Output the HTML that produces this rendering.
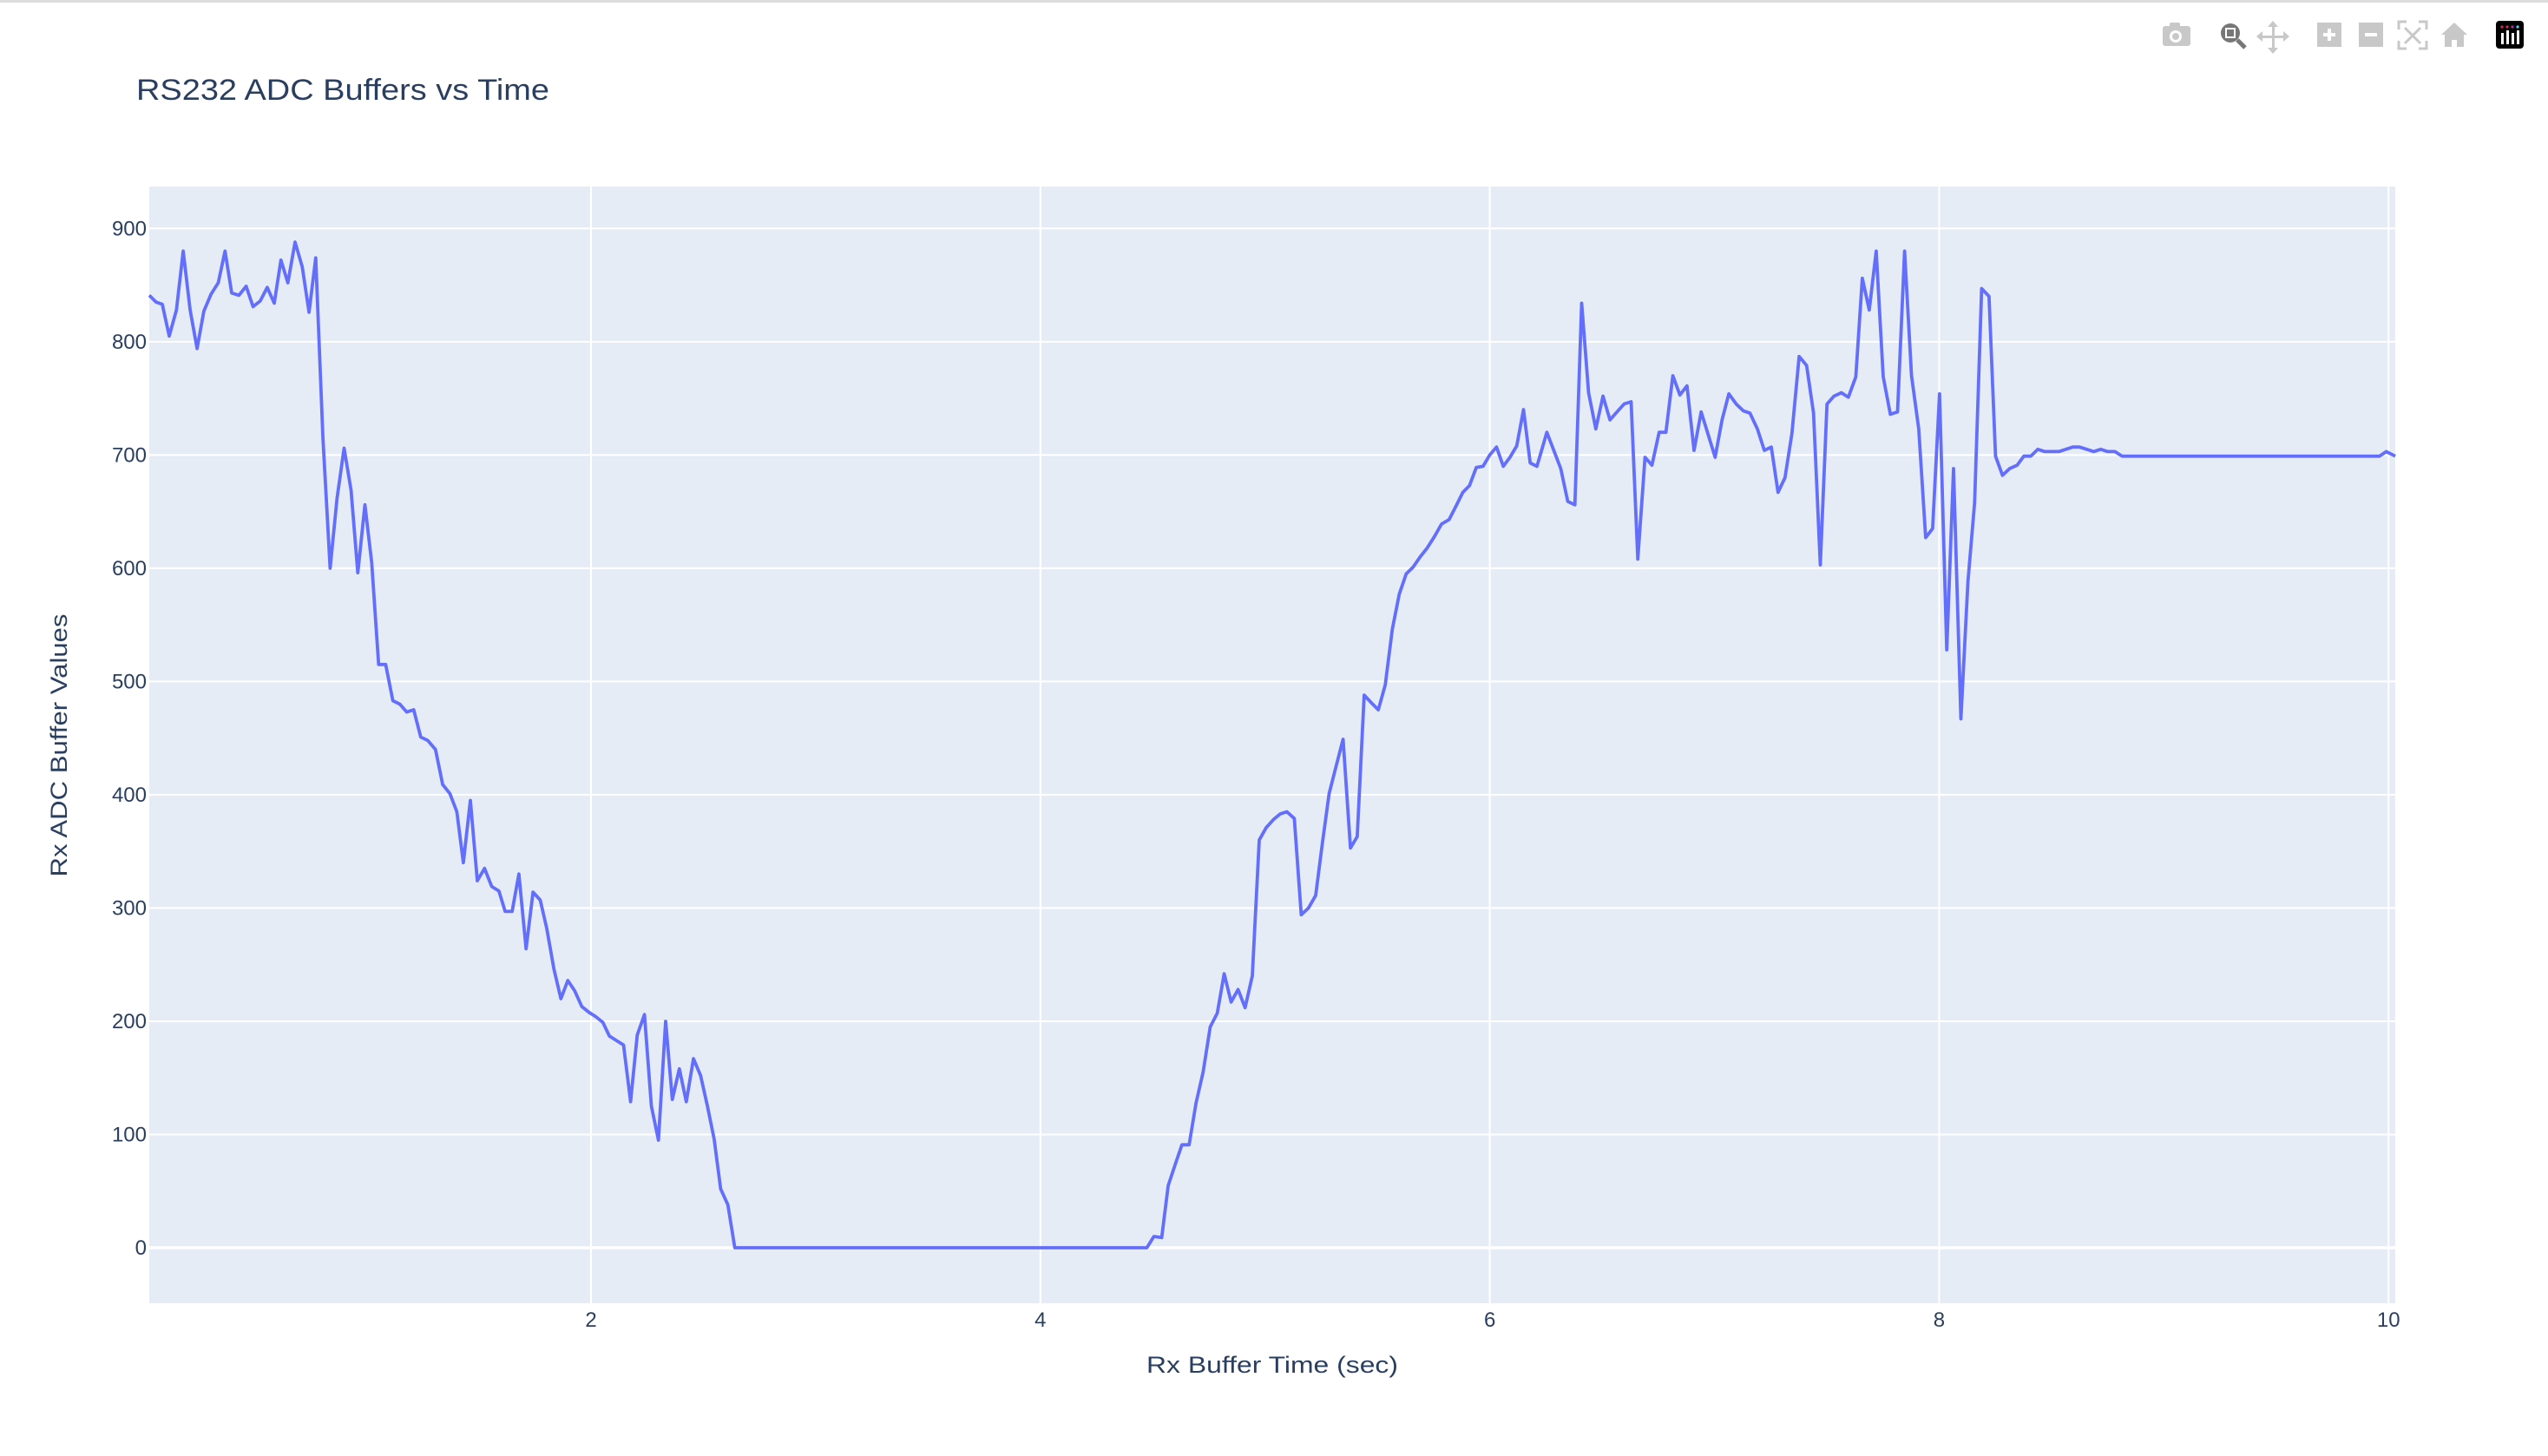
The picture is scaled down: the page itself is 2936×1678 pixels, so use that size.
<!DOCTYPE html>
<html><head><meta charset="utf-8"><style>
html,body{margin:0;padding:0;background:#fff;}
svg{display:block;font-family:"Liberation Sans",sans-serif;}
</style></head><body>
<svg id="chart" width="2936" height="1678" viewBox="0 0 2936 1678">
<rect x="0" y="0" width="2936" height="3" fill="#dcdcdc"/>
<text x="157" y="115" font-size="34" fill="#2a3f5f" textLength="476" lengthAdjust="spacingAndGlyphs">RS232 ADC Buffers vs Time</text>
<rect x="172" y="215" width="2588" height="1287" fill="#e5ecf6"/>
<g id="grid"></g>
<g id="ticks"></g>
<g id="series"></g>
<text x="1466" y="1582" font-size="27" fill="#2a3f5f" text-anchor="middle" textLength="290" lengthAdjust="spacingAndGlyphs">Rx Buffer Time (sec)</text>
<text transform="translate(77,859) rotate(-90)" font-size="27" fill="#2a3f5f" text-anchor="middle" textLength="303" lengthAdjust="spacingAndGlyphs">Rx ADC Buffer Values</text>
<g fill="#c8c8c8">
 <g><rect x="2492" y="30" width="32" height="23" rx="3"/><rect x="2500" y="26" width="12" height="6" rx="2"/><circle cx="2507" cy="42" r="7" fill="#fff"/><circle cx="2507" cy="42" r="4"/></g>
 <g><circle cx="2570" cy="38" r="11" fill="#777"/><rect x="2564" y="32" width="12" height="12" fill="#fff"/><rect x="2566" y="34" width="8" height="8" fill="#777"/><line x1="2578" y1="46" x2="2587" y2="55" stroke="#777" stroke-width="5"/></g>
 <g><rect x="2618" y="29" width="3" height="28"/><rect x="2605" y="41" width="28" height="3"/><path d="M2619 24l-6 7h12zM2619 62l-6-7h12zM2600 42l7-6v12zM2638 42l-7-6v12z"/></g>
 <g><rect x="2670" y="26" width="28" height="28"/><rect x="2677" y="38" width="14" height="4" fill="#fff"/><rect x="2682" y="33" width="4" height="14" fill="#fff"/></g>
 <g><rect x="2718" y="26" width="28" height="28"/><rect x="2725" y="38" width="14" height="4" fill="#fff"/></g>
 <g stroke="#c8c8c8" stroke-width="3" fill="none"><path d="M2764 34v-9h9M2787 25h9v9M2796 47v9h-9M2773 56h-9v-9M2771 32l18 18M2789 32l-18 18"/></g>
 <g><path d="M2828 26l-15 14h4v14h8v-8h6v8h8v-14h4z"/></g>
 <g><rect x="2876" y="24" width="32" height="32" rx="4" fill="#000"/><rect x="2882" y="38" width="3" height="13" fill="#fff"/><rect x="2888" y="35" width="3" height="16" fill="#fff"/><rect x="2894" y="38" width="3" height="13" fill="#fff"/><rect x="2900" y="35" width="3" height="16" fill="#fff"/><circle cx="2883" cy="31" r="1.6" fill="#e0245e"/><circle cx="2889" cy="31" r="1.6" fill="#e0245e"/><circle cx="2895" cy="31" r="1.6" fill="#a3a"/><circle cx="2901" cy="31" r="1.6" fill="#6cf"/></g>
</g>
</svg>
<script>
const times = [0.034,0.064,0.092,0.123,0.155,0.185,0.216,0.247,0.277,0.309,0.341,0.371,0.401,0.433,0.465,0.496,0.528,0.559,0.590,0.620,0.651,0.683,0.715,0.745,0.775,0.807,0.839,0.870,0.901,0.932,0.962,0.994,1.024,1.055,1.086,1.118,1.149,1.180,1.211,1.242,1.273,
1.308,1.340,1.372,1.403,1.432,1.463,1.494,1.526,1.558,1.590,1.618,1.649,1.679,1.711,1.742,1.774,1.803,1.835,1.866,1.897,1.927,1.959,1.990,2.022,2.053,2.082,2.113,2.145,2.176,2.206,2.238,2.269,2.300,2.332,2.362,2.393,2.424,2.456,2.488,2.517,2.548,2.577,2.609,2.640,
4.474,4.505,4.540,4.569,4.599,4.630,4.662,4.693,4.724,4.756,4.787,4.818,4.849,4.880,4.911,4.943,4.974,5.005,5.037,5.067,5.097,5.130,5.161,5.193,5.225,5.255,5.285,5.316,5.347,5.380,5.410,5.441,5.474,5.504,5.535,5.566,5.597,5.628,5.659,5.690,5.722,5.754,5.785,5.819,
5.85,5.88,5.91,5.94,5.97,6.00,6.03,6.06,6.09,6.12,6.15,6.18,6.21,6.254,
6.285,6.316,6.347,6.379,6.409,6.440,6.472,6.504,6.535,6.566,6.598,6.629,6.659,6.691,6.722,6.754,6.784,6.815,6.846,6.878,6.909,6.941,6.972,7.003,7.034,7.064,7.097,7.128,7.158,7.191,7.222,7.253,7.283,7.314,7.345,7.377,7.410,7.441,7.471,7.501,7.532,7.565,7.596,7.629,7.658,7.689,7.720,7.751,7.783,7.815,7.846,7.877,7.909,7.940,7.971,8.002,
8.034,8.064,8.097,8.128,8.158,8.189,8.222,8.251,8.282,8.314,8.347,8.377,8.408,8.439,8.470,8.502,8.533,8.564,8.595,8.625,8.657,8.688,8.719,8.750,8.782,8.814,9.96,9.99,10.03];
const values = [841,835,833,805,828,880,828,794,827,842,852,880,843,841,849,831,836,848,834,872,852,888,866,826,874,715,600,662,706,669,596,656,605,515,515,483,480,473,475,451,448,
440,409,401,385,340,395,324,335,319,315,297,297,330,264,314,307,282,246,220,236,227,213,208,204,199,187,183,179,129,188,206,125,95,200,131,158,129,167,152,126,96,52,38,0,
0,10,9,55,73,91,91,128,155,195,207,242,217,228,212,240,360,371,378,383,385,379,294,300,311,357,401,425,449,353,363,488,481,475,497,546,577,595,601,610,618,628,639,643,
655,667,673,689,690,700,707,690,698,708,740,693,690,720,
704,688,659,656,834,755,723,752,731,738,745,747,608,698,691,720,720,770,753,761,704,738,718,698,731,754,745,739,737,723,704,707,667,680,719,787,779,737,603,745,752,755,751,769,856,828,880,769,736,738,880,770,723,627,635,754,
528,688,467,588,658,847,840,699,682,688,691,699,699,705,703,703,703,705,707,707,705,703,705,703,703,699,699,703,699];
const xTicks = [2,4,6,8,10];
const yTicks = [0,100,200,300,400,500,600,700,800,900];

const NS = "http://www.w3.org/2000/svg";
const PL = 172, PR = 2760, PT = 215, PB = 1502;
const xMin = times[0], xMax = times[times.length-1];
const yMin = -49, yMax = 937;
function xs(v){ return PL + (v - xMin) / (xMax - xMin) * (PR - PL); }
function ys(v){ return PB - (v - yMin) / (yMax - yMin) * (PB - PT); }

const grid = document.getElementById('grid');
const ticks = document.getElementById('ticks');
xTicks.forEach(t => {
  const l = document.createElementNS(NS,'line');
  l.setAttribute('x1', xs(t)); l.setAttribute('x2', xs(t));
  l.setAttribute('y1', PT); l.setAttribute('y2', PB);
  l.setAttribute('stroke', '#fff'); l.setAttribute('stroke-width', '2');
  
  
  grid.appendChild(l);
  const tx = document.createElementNS(NS,'text');
  tx.setAttribute('x', xs(t)); tx.setAttribute('y', 1529);
  tx.setAttribute('text-anchor', 'middle'); tx.setAttribute('font-size', '24'); tx.setAttribute('fill', '#2a3f5f');
  tx.textContent = String(t);
  
  
  ticks.appendChild(tx);
});
yTicks.forEach(t => {
  const l = document.createElementNS(NS,'line');
  l.setAttribute('x1', PL); l.setAttribute('x2', PR);
  l.setAttribute('y1', ys(t)); l.setAttribute('y2', ys(t));
  l.setAttribute('stroke', '#fff'); l.setAttribute('stroke-width', t === 0 ? '3.5' : '2');
  
  
  grid.appendChild(l);
  const tx = document.createElementNS(NS,'text');
  tx.setAttribute('x', 169); tx.setAttribute('y', ys(t) + 8);
  tx.setAttribute('text-anchor', 'end'); tx.setAttribute('font-size', '24'); tx.setAttribute('fill', '#2a3f5f');
  tx.textContent = String(t);
  
  
  ticks.appendChild(tx);
});

const series = document.getElementById('series');
let d = '';
times.forEach((t,i) => { d += (i ? 'L' : 'M') + xs(t).toFixed(1) + ' ' + ys(values[i]).toFixed(1); });
const path = document.createElementNS(NS,'path');
path.setAttribute('d', d);
path.setAttribute('fill', 'none'); path.setAttribute('stroke', '#636efa');
path.setAttribute('stroke-width', '3.8'); path.setAttribute('stroke-linejoin', 'round');


series.appendChild(path);
</script>
</body></html>
